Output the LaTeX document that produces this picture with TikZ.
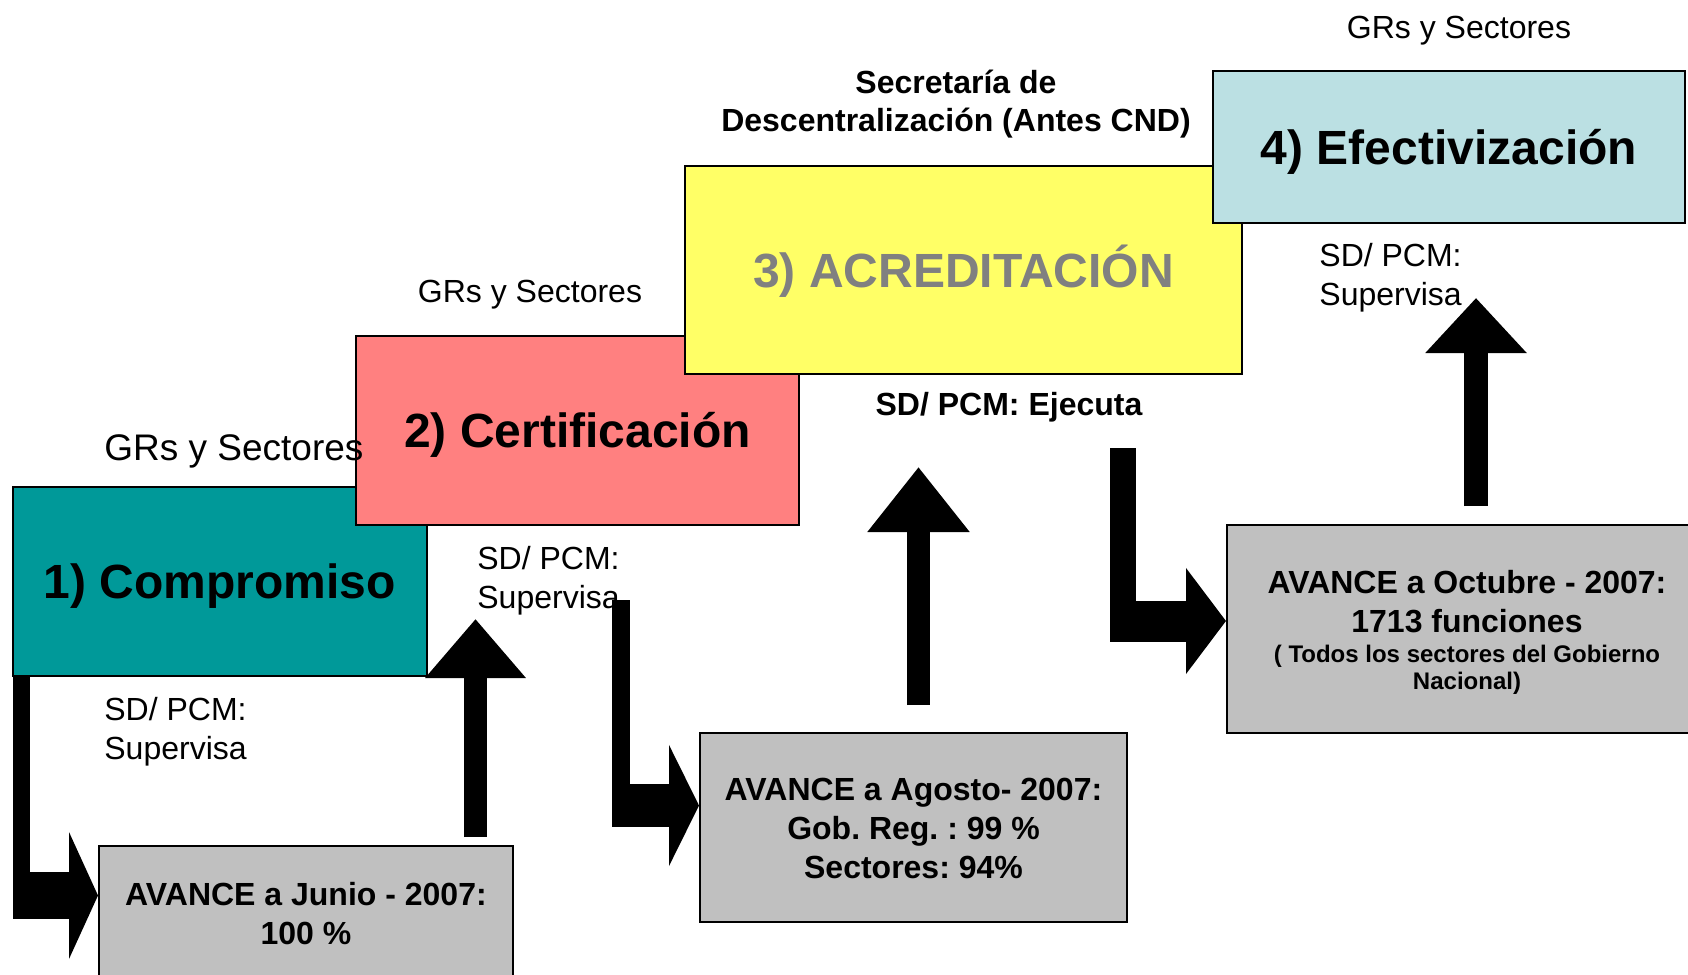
\documentclass[tikz,border=0pt]{standalone}
\usepackage{fontspec}
\setmainfont{Liberation Sans}
\usepackage{tikz}
\usetikzlibrary{arrows.meta,positioning}

\definecolor{compColor}{HTML}{009999}
\definecolor{certColor}{HTML}{FF8080}
\definecolor{acreColor}{HTML}{FFFF66}
\definecolor{efecColor}{HTML}{BBE0E3}
\definecolor{avColor}{HTML}{C0C0C0}
\definecolor{acreText}{HTML}{808080}

\tikzstyle{COMP_COLOR}=[fill=compColor]
\tikzstyle{CERT_COLOR}=[fill=certColor]
\tikzstyle{ACRE_COLOR}=[fill=acreColor]
\tikzstyle{EFEC_COLOR}=[fill=efecColor]
\tikzstyle{AV_COLOR}=[fill=avColor]
\tikzstyle{layer} = [rectangle, draw=black, line width=1pt, inner sep=0pt]
\tikzstyle{stage} = [layer, minimum width=207pt, minimum height=94.5pt, text height=17.2pt, text depth=0pt, font=\bfseries\fontsize{24}{28}\selectfont]
\tikzstyle{avance} = [layer, AV_COLOR, align=center, font=\bfseries\fontsize{16}{19.5}\selectfont]
\tikzstyle{note} = [inner sep=0pt, align=left, font=\fontsize{16}{19.5}\selectfont]
\tikzstyle{boldnote} = [inner sep=0pt, align=center, font=\bfseries\fontsize{16}{19}\selectfont]
\tikzstyle{block} = [draw=black]

\begin{document}
\frenchspacing
\begin{tikzpicture}[x=0.5pt, y=-0.5pt]
      \useasboundingbox (0,0) rectangle (1688,975);
      \clip (0,0) rectangle (1688,975);

      %%%%%%%%%%%%%%%%%%%%%%%%%%%%%%%%%%%%%%%%%%
      % STAGES
      %%%%%%%%%%%%%%%%%%%%%%%%%%%%%%%%%%%%%%%%%%
      \node[stage, COMP_COLOR] (comp) at (220,581.5) {1) Compromiso};
      \node[stage, CERT_COLOR, minimum width=221.5pt] (cert) at (577.5,430.5) {2) Certificación};
      \node[stage, ACRE_COLOR, minimum width=278.5pt, minimum height=104pt, text=acreText] (acre) at (963.5,270) {3) ACREDITACIÓN};
      \node[stage, EFEC_COLOR, minimum width=236pt, minimum height=76pt] (efec) at (1449,147) {4) Efectivización};

      %%%%%%%%%%%%%%%%%%%%%%%%%%%%%%%%%%%%%%%%%%
      % AVANCE
      %%%%%%%%%%%%%%%%%%%%%%%%%%%%%%%%%%%%%%%%%%
      \node[avance, minimum width=207pt, minimum height=67pt] (junio) at (306,913) {\rule{0pt}{12.5pt}AVANCE a Junio - 2007:\\100 \%};
      \node[avance, minimum width=213.5pt, minimum height=94.5pt] (agosto) at (913.5,827.5) {\rule{0pt}{12.5pt}AVANCE a Agosto- 2007:\\Gob. Reg. : 99 \%\\Sectores: 94\%};
      \node[avance, minimum width=240pt, minimum height=104pt] (octubre) at (1467,629)
            {\rule{0pt}{14.5pt}AVANCE a Octubre - 2007:\\1713 funciones\\[-4.5pt]{\fontsize{12}{14}\selectfont ( Todos los sectores del Gobierno}\\[-6pt]{\fontsize{12}{14}\selectfont Nacional)}};

      %%%%%%%%%%%%%%%%%%%%%%%%%%%%%%%%%%%%%%%%%%
      % ARROWS
      %%%%%%%%%%%%%%%%%%%%%%%%%%%%%%%%%%%%%%%%%%
      \coordinate (b1top) at (21.5,675);
      \coordinate (b1bot) at (21.5,919);
      \coordinate (b1left) at (13,895.5);
      \draw[block, line width=8.5pt] (b1top) -- (b1bot);
      \draw[block, line width=23.5pt, -{Triangle[length=14.5pt,width=63pt]}] (b1left) -- (b1left -| junio.west);

      \coordinate (upA) at (475.5,837);
      \coordinate (tipA) at (475.5,619);
      \draw[block, line width=11.5pt, -{Triangle[length=29.5pt,width=48.5pt]}] (upA) -- (tipA);

      \coordinate (b2top) at (621,600);
      \coordinate (b2bot) at (621,827);
      \coordinate (b2left) at (612,805.5);
      \draw[block, line width=9pt] (b2top) -- (b2bot);
      \draw[block, line width=21.5pt, -{Triangle[length=15pt,width=60pt]}] (b2left) -- (b2left -| agosto.west);

      \coordinate (upB) at (918.5,705);
      \coordinate (tipB) at (918.5,467);
      \draw[block, line width=11.5pt, -{Triangle[length=32.5pt,width=49pt]}] (upB) -- (tipB);

      \coordinate (b3top) at (1123,448);
      \coordinate (b3bot) at (1123,642);
      \coordinate (b3left) at (1110,621);
      \draw[block, line width=13pt] (b3top) -- (b3bot);
      \draw[block, line width=20.5pt, -{Triangle[length=20pt,width=52pt]}] (b3left) -- (b3left -| octubre.west);

      \coordinate (upC) at (1476,506);
      \coordinate (tipC) at (1476,298);
      \draw[block, line width=12pt, -{Triangle[length=27.5pt,width=49pt]}] (upC) -- (tipC);

      %%%%%%%%%%%%%%%%%%%%%%%%%%%%%%%%%%%%%%%%%%
      % LABELS
      %%%%%%%%%%%%%%%%%%%%%%%%%%%%%%%%%%%%%%%%%%
      \node[note, anchor=base west, font=\fontsize{18.5}{22}\selectfont] (grs1) at (104,460.5) {GRs y Sectores};
      \node[note, anchor=base] (grs2) at (530,302.5) {GRs y Sectores};
      \node[note, anchor=base] (grs4) at (1459,38.5) {GRs y Sectores};
      \node[boldnote] (sd) at (956,104) {Secretaría de\\Descentralización (Antes CND)};
      \node[boldnote, anchor=base] (ejec) at (1009,415.5) {SD/ PCM: Ejecuta};
      \node[note, anchor=west] (sup1) at (104,731.5) {SD/ PCM:\\Supervisa};
      \node[note, anchor=west] (sup2) at (477,581) {SD/ PCM:\\Supervisa};
      \node[note, anchor=west] (sup4) at (1319,278) {SD/ PCM:\\Supervisa};

\end{tikzpicture}
\end{document}
